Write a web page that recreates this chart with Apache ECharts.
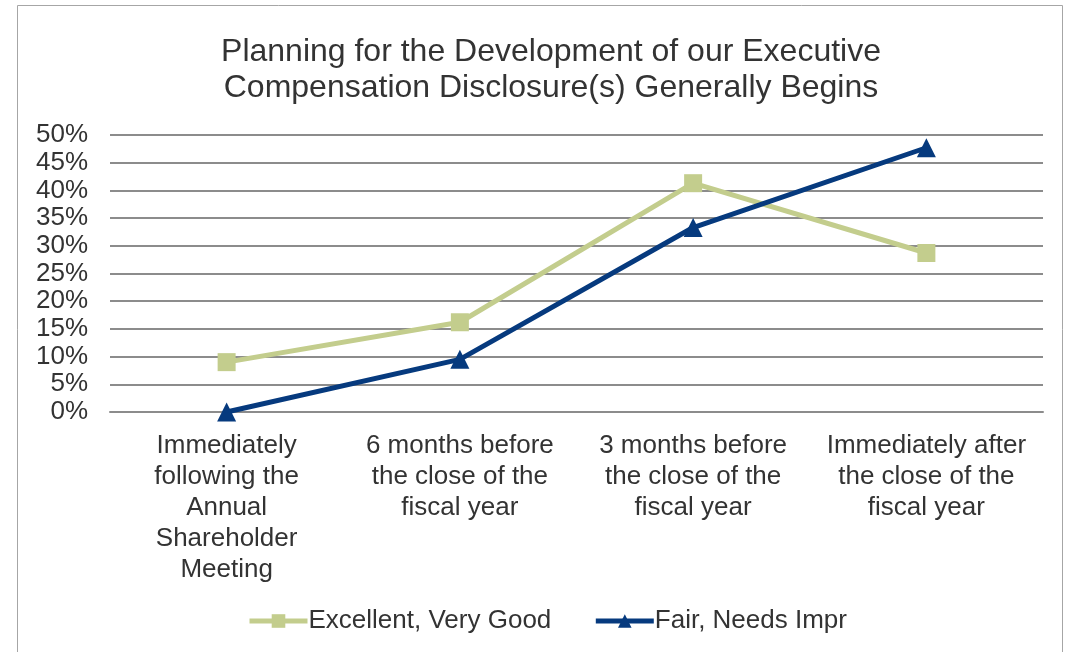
<!DOCTYPE html>
<html>
<head>
<meta charset="utf-8">
<script src="https://cdn.jsdelivr.net/npm/echarts@6/dist/echarts.min.js"></script>
<style>html,body{margin:0;padding:0;background:#fff;}#c{width:1074px;height:652px;}</style>
</head>
<body>
<div id="c"></div>
<script>
const categories = [
  "Immediately\nfollowing the\nAnnual\nShareholder\nMeeting",
  "6 months before\nthe close of the\nfiscal year",
  "3 months before\nthe close of the\nfiscal year",
  "Immediately after\nthe close of the\nfiscal year"
];
const seriesNames = ["Excellent, Very Good", "Fair, Needs Impr"];
const excellent = [9.0, 16.2, 41.3, 28.7];
const fair = [0.0, 9.5, 33.3, 47.7];

const chart = echarts.init(document.getElementById('c'), null, {renderer: 'canvas'});
const font = "'Liberation Sans', Arial, sans-serif";
chart.setOption({
  animation: false,
  backgroundColor: '#fff',
  title: {
    text: 'Planning for the Development of our Executive\nCompensation Disclosure(s) Generally Begins',
    left: 546, top: 29, textAlign: 'center',
    textStyle: {fontFamily: font, fontSize: 32, fontWeight: 'normal', color: '#333', lineHeight: 36}
  },
  graphic: [{
    type: 'rect', shape: {x: 17.5, y: 5.5, width: 1045, height: 660},
    style: {fill: 'none', stroke: '#a6a6a6', lineWidth: 1}, silent: true
  }],
  legend: {
    bottom: 13, left: 242, itemWidth: 58, itemHeight: 17, itemGap: 42,
    lineStyle: {width: 5},
    textStyle: {fontFamily: font, fontSize: 26, color: '#333', padding: [0,0,0,-4]},
    data: seriesNames
  },
  grid: {left: 110, right: 31, top: 135, bottom: 240},
  xAxis: {
    type: 'category', data: categories, boundaryGap: true,
    axisLine: {show: true, lineStyle: {color: '#8c8c8c', width: 2}},
    axisTick: {show: false},
    axisLabel: {fontFamily: font, fontSize: 26, color: '#333', lineHeight: 31, margin: 18, interval: 0}
  },
  yAxis: {
    type: 'value', min: 0, max: 50, interval: 5,
    axisLine: {show: false}, axisTick: {show: false},
    axisLabel: {fontFamily: font, fontSize: 26, color: '#333', formatter: '{value}%', margin: 22},
    splitLine: {lineStyle: {color: '#8c8c8c', width: 2}}
  },
  series: [
    {name: seriesNames[0], type: 'line', data: excellent, symbol: 'rect', symbolSize: 18,
     lineStyle: {color: '#c3cd8d', width: 5}, itemStyle: {color: '#c3cd8d'}},
    {name: seriesNames[1], type: 'line', data: fair, symbol: 'triangle', symbolSize: 19,
     lineStyle: {color: '#063a7e', width: 5}, itemStyle: {color: '#063a7e'}}
  ]
});
</script>
</body>
</html>
